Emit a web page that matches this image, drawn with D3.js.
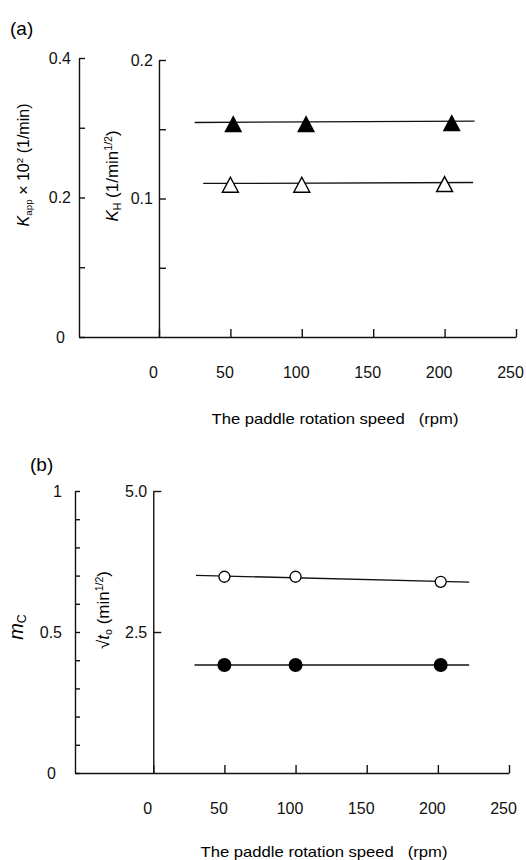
<!DOCTYPE html>
<html>
<head>
<meta charset="utf-8">
<script src="https://cdn.jsdelivr.net/npm/d3@7"></script>
<style>
  body { margin: 0; background: #fff; }
  svg { font-family: "Liberation Sans", Arial, sans-serif; }
  .axis path, .axis line { stroke: #111; stroke-width: 1.4; }
  .axis text { font-size: 16px; fill: #111; font-family: "Liberation Sans", Arial, sans-serif; }
  .fit { stroke: #111; stroke-width: 1.3; fill: none; }
</style>
</head>
<body>
<script>
// ---- Data ----

// x axis (both panels)
var rpmTicks = [0, 50, 100, 150, 200, 250];

// (a) filled triangles: K_app x 10^2 (left outer axis)
var rpmKapp = [52, 103, 205];
var kappValues = [0.308, 0.308, 0.3095];
var kappFitRange = [25, 221];
// (a) open triangles: K_H (inner axis)
var rpmKh = [50, 100, 200];
var khValues = [0.111, 0.111, 0.1115];
var khFitRange = [31, 220];

var kappTicks = [0, 0.1, 0.2, 0.3, 0.4];
var kappTickLabels = ['0', '', '0.2', '', '0.4'];
var khTicks = [0.05, 0.1, 0.15, 0.2];
var khTickLabels = ['', '0.1', '', '0.2'];

// (b) filled circles: m_C (left outer axis)
var rpmMc = [50, 100, 202];
var mcValues = [0.383, 0.383, 0.383];
var mcFitRange = [29, 222];
// (b) open circles: sqrt(t0) (inner axis)
var rpmT0 = [50, 100, 202];
var t0Values = [3.48, 3.48, 3.39];
var t0FitRange = [30, 222];

var mcTicks = [0, 0.1, 0.2, 0.3, 0.4, 0.5, 0.6, 0.7, 0.8, 0.9, 1];
var mcTickLabels = ['0', '', '', '', '', '0.5', '', '', '', '', '1'];
var t0Ticks = [2.5, 5];
var t0TickLabels = ['2.5', '5.0'];

// ---- Helpers ----

// least squares line through the points
function fit(xs, ys) {
  var mx = d3.mean(xs), my = d3.mean(ys);
  var sxy = d3.sum(xs, function(x, i) { return (x - mx) * (ys[i] - my); });
  var sxx = d3.sum(xs, function(x) { return (x - mx) * (x - mx); });
  var b = sxy / sxx;
  return function(x) { return my + b * (x - mx); };
}

// triangle, line passes 40% down from the apex
function triangle(w, h) {
  return 'M0,' + (-0.4 * h) + 'L' + (w / 2) + ',' + (0.6 * h) +
         'L' + (-w / 2) + ',' + (0.6 * h) + 'Z';
}

// text made of parts: {t, it, sub, sup}
function rich(sel, parts, size) {
  var shift = 0;
  parts.forEach(function(p) {
    var target = p.sub ? 3 : (p.sup ? -6 : 0);
    var ts = sel.append('tspan')
                .attr('dy', target - shift)
                .text(p.t);
    shift = target;
    if (p.it) ts.attr('font-style', 'italic');
    if (p.sub || p.sup) ts.attr('font-size', size * 0.62);
  });
}

var svg = d3.select('body')
            .append('svg')
            .attr('width', 526)
            .attr('height', 860);

function xAxis(g, scale, y) {
  g.append('g')
   .attr('class', 'axis')
   .attr('transform', 'translate(0,' + y + ')')
   .call(d3.axisBottom(scale)
           .tickValues(rpmTicks)
           .tickFormat(d3.format('d'))
           .tickSizeInner(-8)
           .tickSizeOuter(0)
           .tickPadding(30))
   .call(function(a) { a.selectAll('text').attr('dx', -6); });
}

function yAxis(g, scale, x, ticks, labels, tick, pad) {
  g.append('g')
   .attr('class', 'axis')
   .attr('transform', 'translate(' + x + ',0)')
   .call(d3.axisLeft(scale)
           .tickValues(ticks)
           .tickFormat(function(d, i) { return labels[i]; })
           .tickSizeInner(-tick)
           .tickSizeOuter(0)
           .tickPadding(pad))
   .call(function(a) {
     a.selectAll('text').filter(function(d) { return d === 0; }).attr('dx', -6);
   });
}

function fitLine(g, xs, ys, range, xs_, ys_) {
  var f = fit(xs, ys);
  g.append('line')
   .attr('class', 'fit')
   .attr('x1', xs_(range[0])).attr('y1', ys_(f(range[0])))
   .attr('x2', xs_(range[1])).attr('y2', ys_(f(range[1])));
}

// ---- Panel (a) ----
var xA = d3.scaleLinear().domain([-56, 250]).range([79, 516]);
var kappScale = d3.scaleLinear().domain([0, 0.4]).range([337, 58]);
var khScale = d3.scaleLinear().domain([0, 0.2]).range([337, 60]);

var ga = svg.append('g');
xAxis(ga, xA, 337);
yAxis(ga, kappScale, xA(-56), kappTicks, kappTickLabels, 6, 8);
yAxis(ga, khScale, xA(0), khTicks, khTickLabels, 7, 6);

fitLine(ga, rpmKapp, kappValues, kappFitRange, xA, kappScale);
fitLine(ga, rpmKh, khValues, khFitRange, xA, khScale);

ga.selectAll('.tri-filled')
  .data(d3.zip(rpmKapp, kappValues))
  .enter()
  .append('path')
  .attr('d', triangle(18, 17))
  .attr('transform', function(d) { return 'translate(' + xA(d[0]) + ',' + kappScale(d[1]) + ')'; })
  .attr('fill', '#000');

ga.selectAll('.tri-open')
  .data(d3.zip(rpmKh, khValues))
  .enter()
  .append('path')
  .attr('d', triangle(16, 15))
  .attr('transform', function(d) { return 'translate(' + xA(d[0]) + ',' + khScale(d[1]) + ')'; })
  .attr('fill', '#fff')
  .attr('stroke', '#000')
  .attr('stroke-width', 1.4);

// ---- Panel (b) ----
var xB = d3.scaleLinear().domain([-55, 250]).range([75, 509]);
var mcScale = d3.scaleLinear().domain([0, 1]).range([773, 491]);
var t0Scale = d3.scaleLinear().domain([0, 5]).range([773, 491]);

var gb = svg.append('g');
xAxis(gb, xB, 773);
yAxis(gb, mcScale, xB(-55), mcTicks, mcTickLabels, 5, 13);
yAxis(gb, t0Scale, xB(0), t0Ticks, t0TickLabels, 8, 6);

fitLine(gb, rpmT0, t0Values, t0FitRange, xB, t0Scale);
fitLine(gb, rpmMc, mcValues, mcFitRange, xB, mcScale);

gb.selectAll('.dot-open')
  .data(d3.zip(rpmT0, t0Values))
  .enter()
  .append('circle')
  .attr('cx', function(d) { return xB(d[0]); })
  .attr('cy', function(d) { return t0Scale(d[1]); })
  .attr('r', 5.5)
  .attr('fill', '#fff')
  .attr('stroke', '#000')
  .attr('stroke-width', 1.3);

gb.selectAll('.dot-filled')
  .data(d3.zip(rpmMc, mcValues))
  .enter()
  .append('circle')
  .attr('cx', function(d) { return xB(d[0]); })
  .attr('cy', function(d) { return mcScale(d[1]); })
  .attr('r', 7)
  .attr('fill', '#000');

// ---- Titles and labels ----
svg.append('text').attr('x', 10).attr('y', 35).attr('font-size', 19).text('(a)');
svg.append('text').attr('x', 30).attr('y', 471).attr('font-size', 19).text('(b)');

[[335, 424], [324, 857]].forEach(function(p) {
  svg.append('text')
     .attr('x', p[0]).attr('y', p[1])
     .attr('text-anchor', 'middle')
     .attr('font-size', 15)
     .attr('textLength', 247)
     .attr('lengthAdjust', 'spacingAndGlyphs')
     .style('white-space', 'pre')
     .text('The paddle rotation speed   (rpm)');
});

function yTitle(cx, cy, parts, size) {
  var t = svg.append('text')
             .attr('transform', 'translate(' + cx + ',' + cy + ') rotate(-90)')
             .attr('text-anchor', 'middle')
             .attr('font-size', size);
  var inner = t.append('tspan').attr('dy', '0.35em');
  rich(inner, parts, size);
}

yTitle(29, 165, [{t: 'K', it: true}, {t: 'app', sub: true}, {t: ' \u00d7 10'}, {t: '2', sup: true}, {t: ' (1/min)'}], 16);
yTitle(118, 176, [{t: 'K', it: true}, {t: 'H', sub: true}, {t: ' (1/min'}, {t: '1/2', sup: true}, {t: ')'}], 17);
yTitle(23, 627, [{t: 'm', it: true}, {t: 'C', sub: true}], 20);
yTitle(109, 610, [{t: '\u221a'}, {t: 't', it: true}, {t: 'o', sub: true}, {t: ' (min'}, {t: '1/2', sup: true}, {t: ')'}], 17);
</script>
</body>
</html>
